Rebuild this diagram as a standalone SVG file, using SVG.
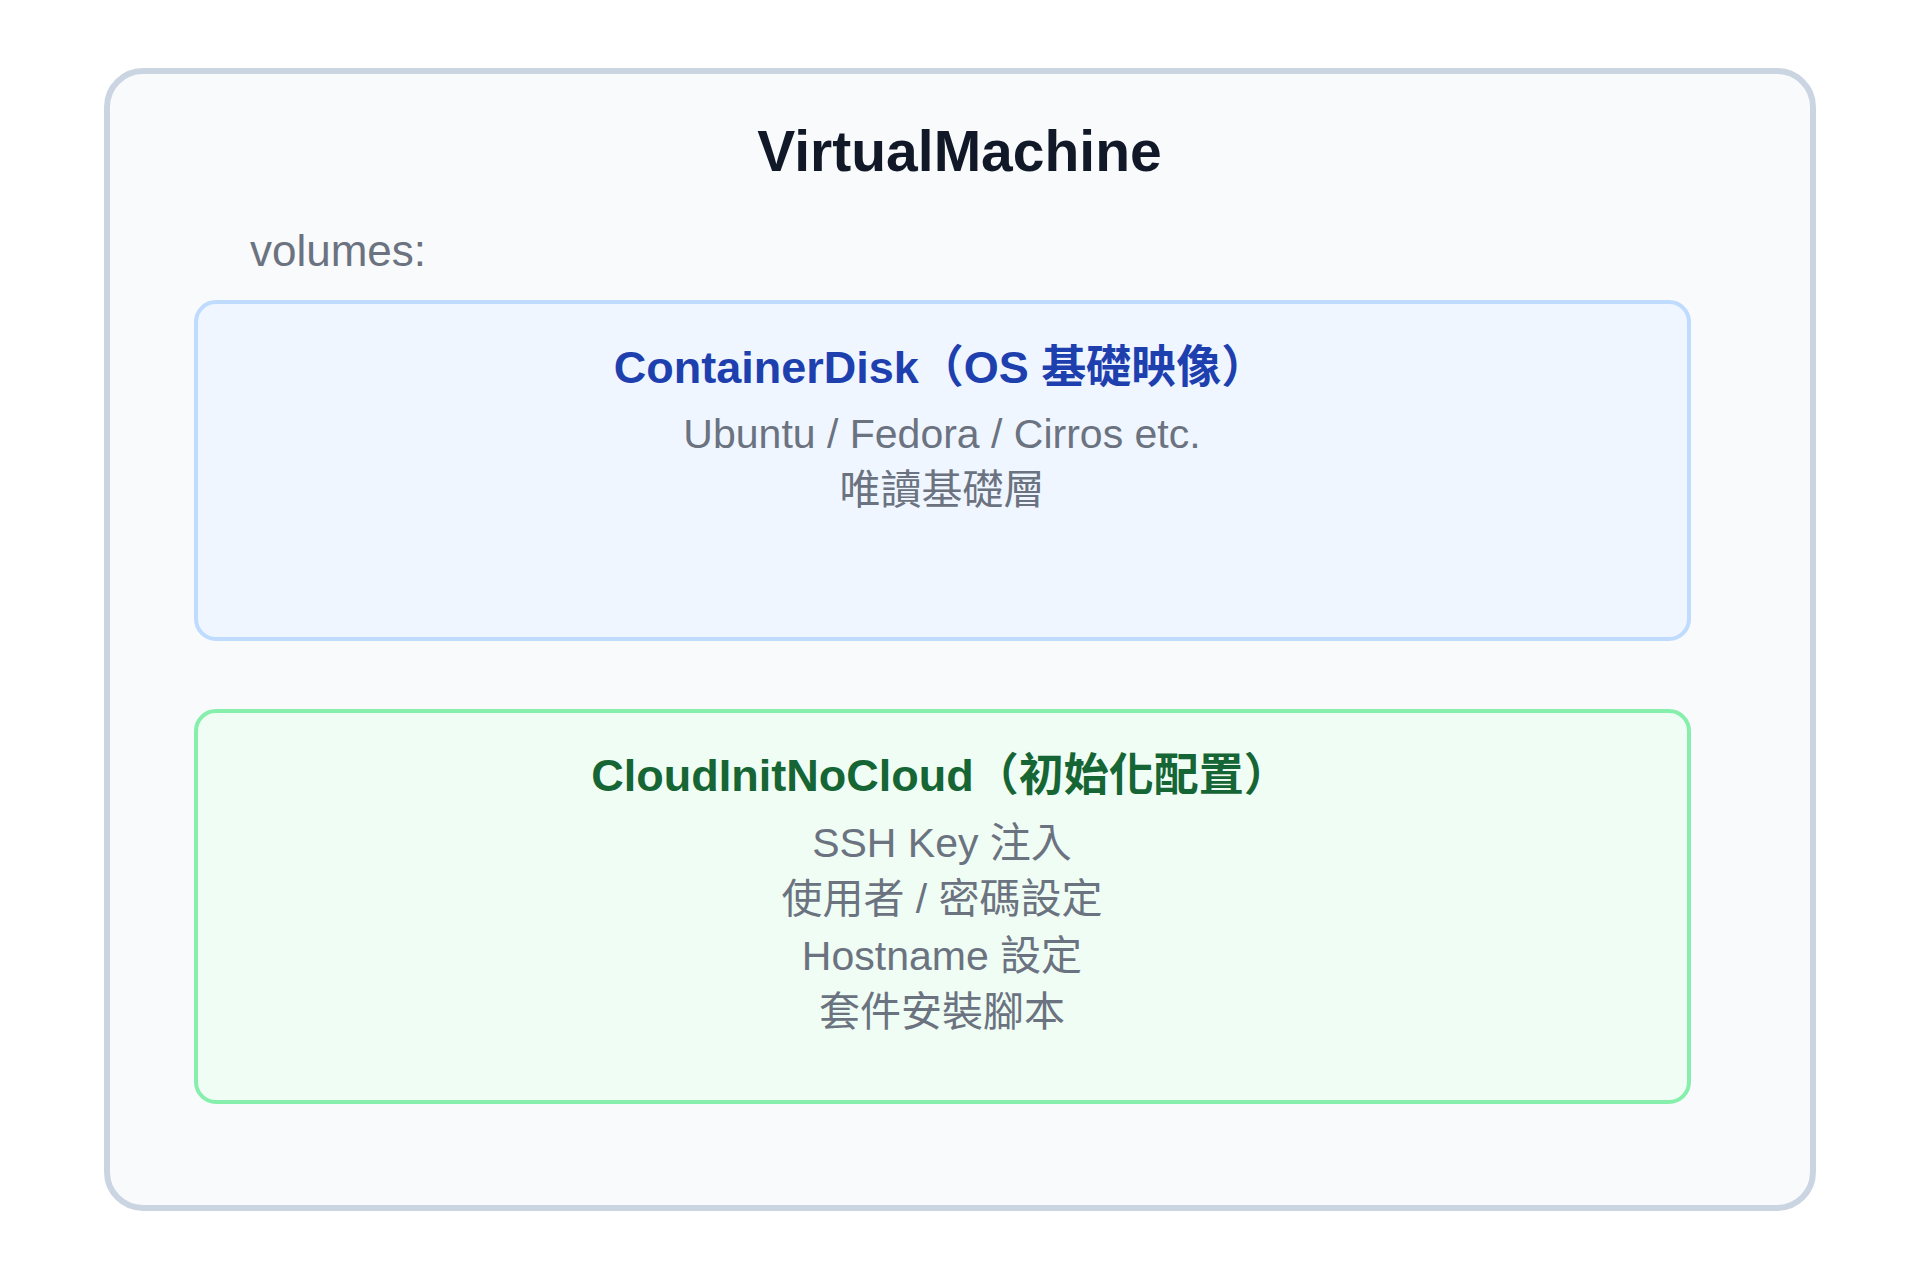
<svg xmlns="http://www.w3.org/2000/svg" width="1920" height="1280" viewBox="0 0 1920 1280">
<style>
text{font-family:"Liberation Sans","Noto Sans CJK TC",sans-serif;text-anchor:middle}
.vm-title{font-size:57px;font-weight:700;fill:#111827}
.label{font-size:44px;fill:#6b7280;text-anchor:start}
.ntitle{font-size:45px;font-weight:700}
.body{font-size:41px;fill:#6b7280}
</style>
<rect width="1920" height="1280" fill="#ffffff"/>
<g id="vm">
<rect x="107" y="71" width="1706" height="1137" rx="36" fill="#f8fafc" stroke="#cbd5e1" stroke-width="6"/>
<text class="vm-title" x="959.5" y="171">VirtualMachine</text>
<text class="label" x="250" y="266">volumes:</text>
</g>
<g id="containerdisk">
<rect x="196" y="302" width="1493" height="337" rx="20" fill="#eff6ff" stroke="#bfdbfe" stroke-width="4"/>
<text class="ntitle" x="940" y="383" fill="#1e40af">ContainerDisk（OS 基礎映像）</text>
<text class="body" x="942" y="448">Ubuntu / Fedora / Cirros etc.</text>
<text class="body" x="942" y="504">唯讀基礎層</text>
</g>
<g id="cloudinit">
<rect x="196" y="711" width="1493" height="391" rx="20" fill="#f0fdf4" stroke="#86efac" stroke-width="4"/>
<text class="ntitle" x="940" y="791" fill="#166534">CloudInitNoCloud（初始化配置）</text>
<text class="body" x="942" y="857">SSH Key 注入</text>
<text class="body" x="942" y="913">使用者 / 密碼設定</text>
<text class="body" x="942" y="970">Hostname 設定</text>
<text class="body" x="942" y="1026">套件安裝腳本</text>
</g>
<g id="connectors"></g>
</svg>
